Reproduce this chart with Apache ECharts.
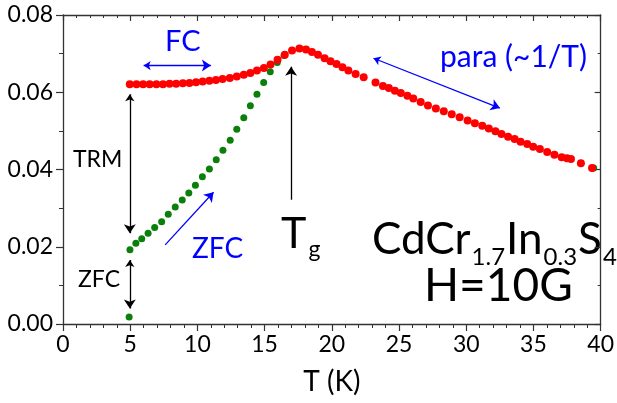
<!DOCTYPE html>
<html>
<head>
<meta charset="utf-8">
<script src="https://cdn.jsdelivr.net/npm/echarts@6/dist/echarts.min.js"></script>
<style>
html,body{margin:0;padding:0;background:#fff;}
#chart{width:617px;height:403px;}
</style>
</head>
<body>
<div id="chart"></div>
<script>
// ---- data ----
const fcT = [4.97,5.47,5.96,6.45,6.95,7.44,7.93,8.42,8.92,9.41,9.90,10.39,10.89,11.38,11.87,12.41,12.93,13.45,13.94,14.43,14.95,15.44,15.96,16.50,17.04,17.59,18.08,18.52,18.97,19.46,19.90,20.35,20.79,21.23,21.77,22.37,23.25,23.80,24.24,24.69,25.13,25.62,26.06,26.61,27.15,27.74,28.33,28.92,29.51,30.10,30.64,31.19,31.68,32.17,32.62,33.11,33.60,34.04,34.54,34.98,35.48,36.02,36.56,37.10,37.49,37.79,38.53,39.36];
const fcM = [0.0621,0.0621,0.0621,0.0621,0.0621,0.0621,0.0622,0.0622,0.0623,0.0624,0.0626,0.0628,0.0630,0.0632,0.0634,0.0637,0.0641,0.0645,0.0650,0.0656,0.0663,0.0672,0.0684,0.0697,0.0708,0.0713,0.0711,0.0704,0.0697,0.0688,0.0680,0.0673,0.0665,0.0656,0.0647,0.0639,0.0625,0.0616,0.0611,0.0604,0.0598,0.0591,0.0584,0.0575,0.0566,0.0558,0.0551,0.0543,0.0535,0.0527,0.0520,0.0513,0.0506,0.0499,0.0492,0.0485,0.0479,0.0472,0.0466,0.0459,0.0453,0.0445,0.0438,0.0432,0.0429,0.0427,0.0416,0.0404];
const zfcT = [4.92,4.98,5.42,5.86,6.33,6.82,7.34,7.83,8.35,8.87,9.36,9.85,10.37,10.89,11.40,11.90,12.44,12.93,13.45,13.94,14.43,14.93,15.42,15.94,16.45,39.48];
const zfcM = [0.0018,0.0192,0.0209,0.0221,0.0235,0.0250,0.0265,0.0284,0.0303,0.0321,0.0339,0.0359,0.0381,0.0401,0.0425,0.0450,0.0476,0.0504,0.0534,0.0565,0.0595,0.0625,0.0653,0.0677,0.0695,0.0404];
const xTicks = [0,5,10,15,20,25,30,35,40];
const yTicks = [0.00,0.02,0.04,0.06,0.08];

// annotation arrows (data coordinates)
const blueArrows = [
  {coords:[[6.0,0.0669],[11.0,0.0669]], both:true},     // FC
  {coords:[[23.1,0.0688],[32.5,0.0559]], both:true},    // para
  {coords:[[7.6,0.0205],[11.2,0.0341]], both:false}     // ZFC rising
];
const blackArrows = [
  {coords:[[4.97,0.0595],[4.97,0.0235]], both:true},    // TRM
  {coords:[[4.97,0.0166],[4.97,0.0040]], both:true},    // ZFC
  {coords:[[16.97,0.0322],[16.97,0.0666]], both:false}  // Tg
];

const FONT = 'Lato';
const axisColor = '#333';

function arrowData(list){
  return list.map(a => ({
    coords: a.coords,
    symbol: a.both ? ['arrow','arrow'] : ['none','arrow']
  }));
}

const chart = echarts.init(document.getElementById('chart'), null, {renderer:'canvas'});
const option = {
  animation:false,
  backgroundColor:'#fff',
  textStyle:{fontFamily:FONT},
  grid:{left:63, right:13, top:15, bottom:79, containLabel:false},
  xAxis:[{
    type:'value', min:xTicks[0], max:xTicks[xTicks.length-1], interval:5,
    position:'bottom',
    name:'T (K)', nameLocation:'middle', nameGap:44,
    nameTextStyle:{fontFamily:FONT, fontSize:28, color:'#000'},
    axisLine:{show:true, onZero:false, lineStyle:{color:axisColor, width:1.3}},
    axisTick:{show:true, inside:false, length:7, lineStyle:{color:axisColor, width:1.2}},
    minorTick:{show:true, splitNumber:5, length:4, lineStyle:{color:axisColor, width:1}},
    axisLabel:{fontFamily:FONT, fontSize:23, color:'#000', margin:9},
    splitLine:{show:false}
  },{
    type:'value', min:xTicks[0], max:xTicks[xTicks.length-1], interval:5,
    position:'top',
    axisLine:{show:true, onZero:false, lineStyle:{color:axisColor, width:1.3}},
    axisTick:{show:true, inside:true, length:6, lineStyle:{color:axisColor, width:1.2}},
    minorTick:{show:true, splitNumber:5, length:3, lineStyle:{color:axisColor, width:1}},
    axisLabel:{show:false},
    splitLine:{show:false}
  }],
  yAxis:[{
    type:'value', min:yTicks[0], max:yTicks[yTicks.length-1], interval:0.02,
    position:'left',
    axisLine:{show:true, onZero:false, lineStyle:{color:axisColor, width:1.3}},
    axisTick:{show:true, inside:false, length:7, lineStyle:{color:axisColor, width:1.2}},
    minorTick:{show:true, splitNumber:2, length:4, lineStyle:{color:axisColor, width:1}},
    axisLabel:{fontFamily:FONT, fontSize:23, color:'#000', margin:10, formatter:v=>v.toFixed(2)},
    splitLine:{show:false}
  },{
    type:'value', min:yTicks[0], max:yTicks[yTicks.length-1], interval:0.02,
    position:'right',
    axisLine:{show:true, onZero:false, lineStyle:{color:axisColor, width:1.3}},
    axisTick:{show:true, inside:true, length:6, lineStyle:{color:axisColor, width:1.2}},
    minorTick:{show:true, splitNumber:2, length:3, lineStyle:{color:axisColor, width:1}},
    axisLabel:{show:false},
    splitLine:{show:false}
  }],
  series:[
    {
      type:'scatter', name:'ZFC', xAxisIndex:0, yAxisIndex:0, z:2,
      symbol:'circle', symbolSize:7,
      itemStyle:{color:'#0a800a', opacity:1},
      data: zfcT.map((t,i)=>[t, zfcM[i]])
    },
    {
      type:'scatter', name:'FC', xAxisIndex:0, yAxisIndex:0, z:3,
      symbol:'circle', symbolSize:8,
      itemStyle:{color:'#ff0000', opacity:1},
      data: fcT.map((t,i)=>[t, fcM[i]])
    },
    {
      type:'lines', coordinateSystem:'cartesian2d', xAxisIndex:0, yAxisIndex:0, z:4,
      symbolSize:[7,9],
      lineStyle:{color:'#0000ff', width:1.3, opacity:1},
      data: arrowData(blueArrows)
    },
    {
      type:'lines', coordinateSystem:'cartesian2d', xAxisIndex:0, yAxisIndex:0, z:4,
      symbolSize:[7,9],
      lineStyle:{color:'#000', width:1.3, opacity:1},
      data: arrowData(blackArrows)
    }
  ],
  graphic:[
    {type:'text', left:165, top:27, style:{text:'FC', fontFamily:FONT, fontSize:29, fill:'#0000ff'}},
    {type:'text', left:440, top:42, style:{text:'para (~1/T)', fontFamily:FONT, fontSize:30, fill:'#0000ff'}},
    {type:'text', left:73, top:148, style:{text:'TRM', fontFamily:FONT, fontSize:23, fill:'#000'}},
    {type:'text', left:78, top:268, style:{text:'ZFC', fontFamily:FONT, fontSize:23, fill:'#000'}},
    {type:'text', left:192, top:235, style:{text:'ZFC', fontFamily:FONT, fontSize:28, fill:'#0000ff'}},
    {type:'text', left:281, top:204, style:{
      text:'{b|T}{s|g}', fontFamily:FONT, fill:'#000',
      rich:{
        b:{fontFamily:FONT, fontSize:43, lineHeight:60, verticalAlign:'middle', fill:'#000'},
        s:{fontFamily:FONT, fontSize:23, lineHeight:23, verticalAlign:'top', padding:[34,0,0,2], fill:'#000'}
      }}},
    {type:'text', left:372, top:208, style:{
      text:'{b|CdCr}{s|1.7}{b|In}{s|0.3}{b|S}{s|4}', fontFamily:FONT, fill:'#000',
      rich:{
        b:{fontFamily:FONT, fontSize:44, lineHeight:64, verticalAlign:'middle', fill:'#000'},
        s:{fontFamily:FONT, fontSize:24, lineHeight:24, verticalAlign:'top', padding:[37,1,0,1], fill:'#000'}
      }}},
    {type:'text', left:424, top:263, style:{text:'H=10G', fontFamily:FONT, fontSize:46, fill:'#000'}}
  ]
};
chart.setOption(option);
</script>
</body>
</html>
